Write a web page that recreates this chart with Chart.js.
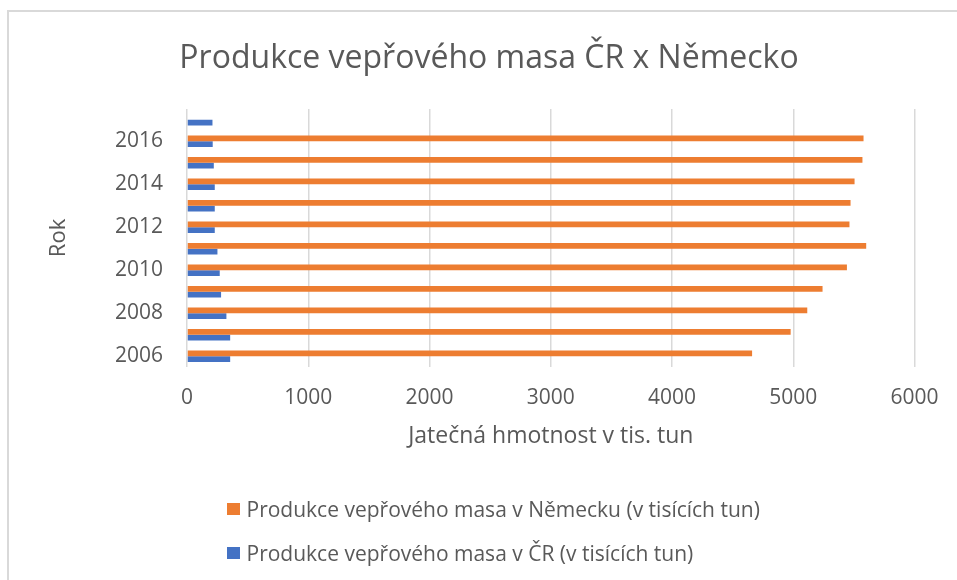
<!DOCTYPE html>
<html>
<head>
<meta charset="utf-8">
<script src="https://cdn.jsdelivr.net/npm/chart.js@4/dist/chart.umd.min.js"></script>
<style>
  body { margin: 0; background: #fff; }
  #wrap { position: relative; width: 957px; height: 580px; overflow: hidden; }
  #frame { position: absolute; left: 7px; top: 10px; width: 1000px; height: 700px; border: 2px solid #d9d9d9; box-sizing: border-box; }
  canvas { position: absolute; left: 0; top: 0; }
  #legend { position: absolute; left: 227px; top: 0; font-family: "Open Sans", sans-serif; font-size: 21px; color: #595959; }
  .item { position: absolute; left: 0; white-space: nowrap; display: flex; align-items: center; }
  .box { width: 12.5px; height: 12.5px; margin-right: 7px; }
</style>
</head>
<body>
<div id="wrap">
  <div id="frame"></div>
  <canvas id="chart" width="957" height="580"></canvas>
  <div id="legend"></div>
</div>
<script>
// Data
const years = ['2006', '2007', '2008', '2009', '2010', '2011', '2012', '2013', '2014', '2015', '2016', '2017'];
const germany = [4660, 4978, 5115, 5241, 5442, 5601, 5463, 5472, 5505, 5570, 5579, null];
const czech = [356, 356, 325, 281, 270, 251, 229, 229, 229, 221, 212, 210];
const xTicks = [0, 1000, 2000, 3000, 4000, 5000, 6000];

const labelDE = 'Produkce vepřového masa v Německu (v tisících tun)';
const labelCZ = 'Produkce vepřového masa v ČR (v tisících tun)';

const textColor = '#595959';
const font = 'Open Sans';

const ctx = document.getElementById('chart').getContext('2d');
const chart = new Chart(ctx, {
  type: 'bar',
  data: {
    labels: years,
    datasets: [
      { label: labelDE, data: germany, backgroundColor: '#ED7D31' },
      { label: labelCZ, data: czech, backgroundColor: '#4472C4' }
    ]
  },
  options: {
    indexAxis: 'y',
    responsive: false,
    animation: false,
    categoryPercentage: 0.53,
    barPercentage: 1,
    // left padding shifts the title centre to where the original has it
    layout: { padding: { left: 62, right: 41, top: 0, bottom: 130 } },
    plugins: {
      legend: { display: false },
      tooltip: { enabled: false },
      title: {
        display: true,
        text: 'Produkce vepřového masa ČR x Německo',
        color: textColor,
        font: { family: font, size: 32, weight: 'normal' },
        padding: { top: 39.4, bottom: 31.2 }
      }
    },
    scales: {
      x: {
        min: 0,
        max: 6000,
        afterBuildTicks: s => { s.ticks = xTicks.map(v => ({ value: v })); },
        afterFit: s => { s.height = 83; },
        grid: { color: '#d9d9d9', lineWidth: 1.5, drawTicks: false },
        border: { display: false },
        ticks: {
          color: textColor,
          font: { family: font, size: 21 },
          padding: 18.4,
          callback: v => String(v)
        },
        title: {
          display: true,
          text: 'Jatečná hmotnost v tis. tun',
          color: textColor,
          font: { family: font, size: 23 },
          padding: { top: 0, bottom: 0 }
        }
      },
      y: {
        reverse: true,
        afterFit: s => { s.width = 125; },
        grid: { display: false, drawTicks: false },
        border: { display: false },
        ticks: {
          autoSkip: false,
          color: textColor,
          font: { family: font, size: 21 },
          padding: 24,
          callback: function(v, i) {
            return i % 2 === 0 ? years[i] : '';
          }
        },
        title: {
          display: true,
          text: 'Rok',
          color: textColor,
          font: { family: font, size: 22 },
          padding: { top: -16.7, bottom: 0 }
        }
      }
    }
  }
});

// Legend built from the chart's datasets, stacked in two rows like the original
const legend = document.getElementById('legend');
const rowY = [509, 553];
chart.data.datasets.forEach((ds, i) => {
  const item = document.createElement('div');
  item.className = 'item';
  item.style.top = (rowY[i] - 15) + 'px';
  item.style.height = '30px';
  item.innerHTML = '<span class="box" style="background:' + ds.backgroundColor + '"></span><span>' + ds.label + '</span>';
  legend.appendChild(item);
});
</script>
</body>
</html>
